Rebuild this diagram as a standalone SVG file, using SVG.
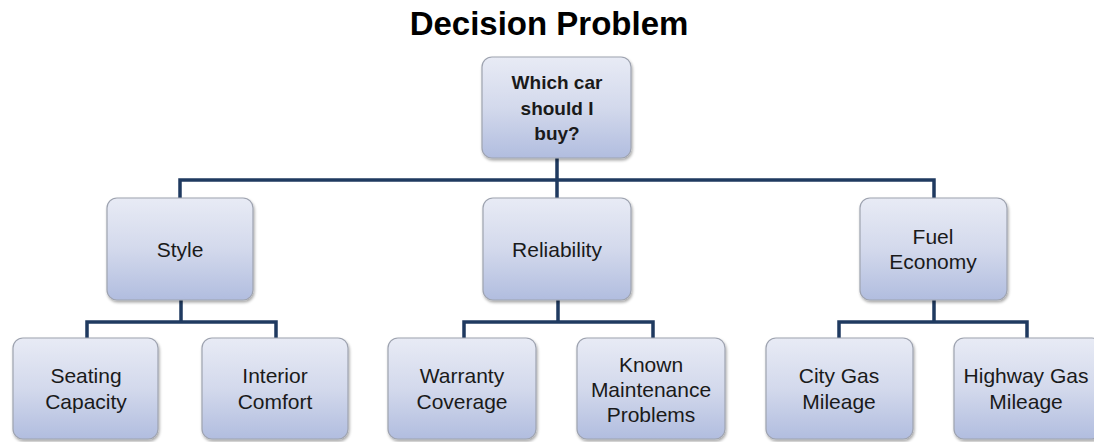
<svg xmlns="http://www.w3.org/2000/svg" width="1094" height="442" viewBox="0 0 1094 442">
<defs>
<linearGradient id="g" x1="0" y1="0" x2="0" y2="1">
<stop offset="0" stop-color="#e8ebf5"/>
<stop offset="0.5" stop-color="#d3d9ec"/>
<stop offset="1" stop-color="#b1bddf"/>
</linearGradient>
<filter id="sh" x="-10%" y="-10%" width="125%" height="125%">
<feGaussianBlur in="SourceAlpha" stdDeviation="1.5"/>
<feOffset dx="1" dy="2" result="b"/>
<feComponentTransfer><feFuncA type="linear" slope="0.35"/></feComponentTransfer>
<feMerge><feMergeNode/><feMergeNode in="SourceGraphic"/></feMerge>
</filter>
</defs>
<style>
.box{fill:url(#g);stroke:#9ea3b0;stroke-width:1.2;filter:url(#sh)}
.t{font-family:"Liberation Sans",Arial,sans-serif;font-size:21px;fill:#1a1a1a;text-anchor:middle}
.b{font-weight:bold;font-size:19px}
.title{font-family:"Liberation Sans",Arial,sans-serif;font-size:33px;font-weight:bold;fill:#000;text-anchor:middle}
.c{fill:none;stroke:#1f3a60;stroke-width:3.5}
</style>
<rect width="1094" height="442" fill="#fff"/>
<text class="title" x="549" y="35">Decision Problem</text>
<g id="connectors">
<path class="c" d="M557 158V180M180 198V180H934V198M557 180V198"/>
<path class="c" d="M181 300V322M87 338V322H276V338"/>
<path class="c" d="M558 300V322M464 338V322H653V338"/>
<path class="c" d="M934 300V322M839 338V322H1027V338"/>
</g>
<g id="root"><rect class="box" x="482" y="57" width="149" height="101" rx="10"/>
<text class="t b" x="557" y="89">Which car</text><text class="t b" x="557" y="115">should I</text><text class="t b" x="557" y="140">buy?</text></g>
<g id="style"><rect class="box" x="107" y="198" width="146" height="102" rx="10"/>
<text class="t" x="180" y="257">Style</text></g>
<g id="reliability"><rect class="box" x="483" y="198" width="148" height="102" rx="10"/>
<text class="t" x="557" y="257">Reliability</text></g>
<g id="fuel"><rect class="box" x="860" y="198" width="147" height="102" rx="10"/>
<text class="t" x="933" y="244">Fuel</text><text class="t" x="933" y="269">Economy</text></g>
<g id="seating"><rect class="box" x="13" y="338" width="145" height="101" rx="10"/>
<text class="t" x="86" y="383">Seating</text><text class="t" x="86" y="409">Capacity</text></g>
<g id="interior"><rect class="box" x="202" y="338" width="146" height="101" rx="10"/>
<text class="t" x="275" y="383">Interior</text><text class="t" x="275" y="409">Comfort</text></g>
<g id="warranty"><rect class="box" x="388" y="338" width="148" height="101" rx="10"/>
<text class="t" x="462" y="383">Warranty</text><text class="t" x="462" y="409">Coverage</text></g>
<g id="known"><rect class="box" x="577" y="338" width="148" height="101" rx="10"/>
<text class="t" x="651" y="372">Known</text><text class="t" x="651" y="397">Maintenance</text><text class="t" x="651" y="422">Problems</text></g>
<g id="city"><rect class="box" x="766" y="338" width="147" height="101" rx="10"/>
<text class="t" x="839" y="383">City Gas</text><text class="t" x="839" y="409">Mileage</text></g>
<g id="highway"><rect class="box" x="954" y="338" width="148" height="101" rx="10"/>
<text class="t" x="1026" y="383">Highway Gas</text><text class="t" x="1026" y="409">Mileage</text></g>
</svg>
